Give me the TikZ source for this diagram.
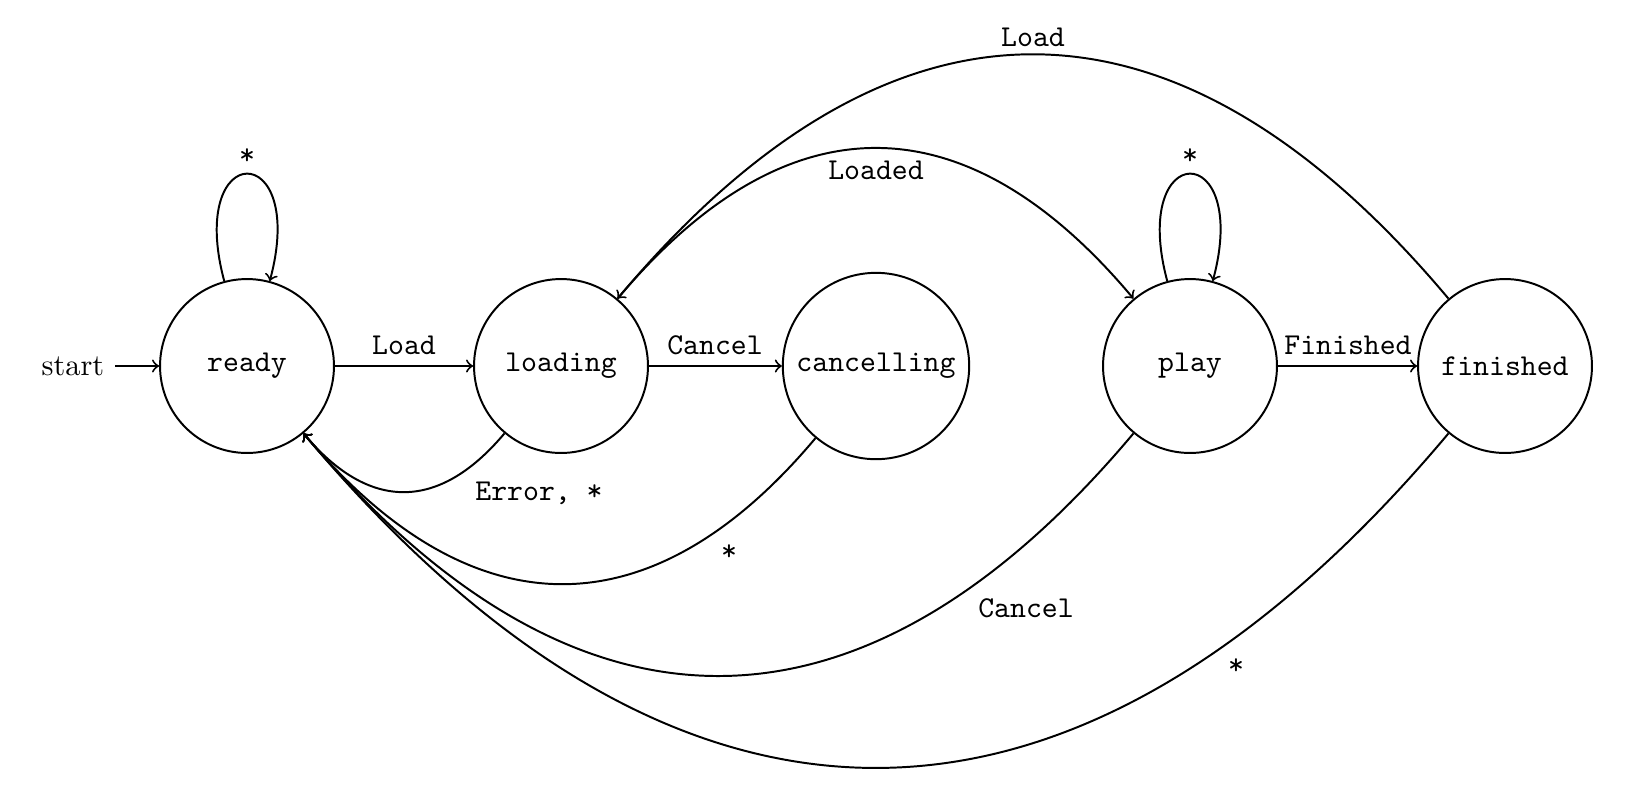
\documentclass[tikz,border=0pt]{standalone}
\usetikzlibrary{arrows}
\begin{document}
\begin{tikzpicture}[x=0.33pt,y=0.33pt,
  every path/.style={line width=0.65pt},
  st/.style={draw,circle,line width=0.65pt,minimum size=57.4pt,inner sep=0pt,font=\ttfamily},
  lbl/.style={font=\ttfamily,inner sep=1pt},
  edge/.style={->,>=to,line width=0.65pt}]
\useasboundingbox (0,0) rectangle (1641,-799);
\node[st] (ready) at (247,-366) {ready};
\node[st] (loading) at (561,-366) {loading};
\node[st,minimum size=61.5pt] (cancelling) at (876,-366) {cancelling};
\node[st] (play) at (1190,-366) {play};
\node[st] (finished) at (1505,-366) {finished};
\node (start) at (73,-366) {start};
\draw[edge] (start) -- (ready);
% loops
\draw[edge] (ready.105) .. controls +(105:148) and +(75:148) .. (ready.75);
\node[lbl] (lr) at (247,-157) {*};
\draw[edge] (play.105) .. controls +(105:148) and +(75:148) .. (play.75);
\node[lbl] (lp) at (1190,-157) {*};
% straight
\draw[edge] (ready) -- (loading);
\node[lbl] (l1) at (404,-345) {Load};
\draw[edge] (loading) -- (cancelling);
\node[lbl] (l2) at (715,-345) {Cancel};
\draw[edge] (play) -- (finished);
\node[lbl] (l3) at (1348,-345) {Finished};
% upper curves
\draw[edge] (loading.50) .. controls +(50:262) and +(130:262) .. (play.130);
\node[lbl] (l4) at (876,-170) {Loaded};
\draw[edge] (finished.130) .. controls +(130:425) and +(50:425) .. (loading.50);
\node[lbl] (l5) at (1033,-37) {Load};
% lower curves
\draw[edge] (loading.230) .. controls +(230:102) and +(-50:102) .. (ready.-50);
\node[lbl] (l6) at (539,-493) {Error, *};
\draw[edge] (cancelling.230) .. controls +(230:258) and +(-50:258) .. (ready.-50);
\node[lbl] (l7) at (729,-553) {*};
\draw[edge] (play.230) .. controls +(230:422) and +(-50:422) .. (ready.-50);
\node[lbl] (l8) at (1026,-608) {Cancel};
\draw[edge] (finished.230) .. controls +(230:582) and +(-50:582) .. (ready.-50);
\node[lbl] (l9) at (1236,-667) {*};
\end{tikzpicture}
\end{document}
